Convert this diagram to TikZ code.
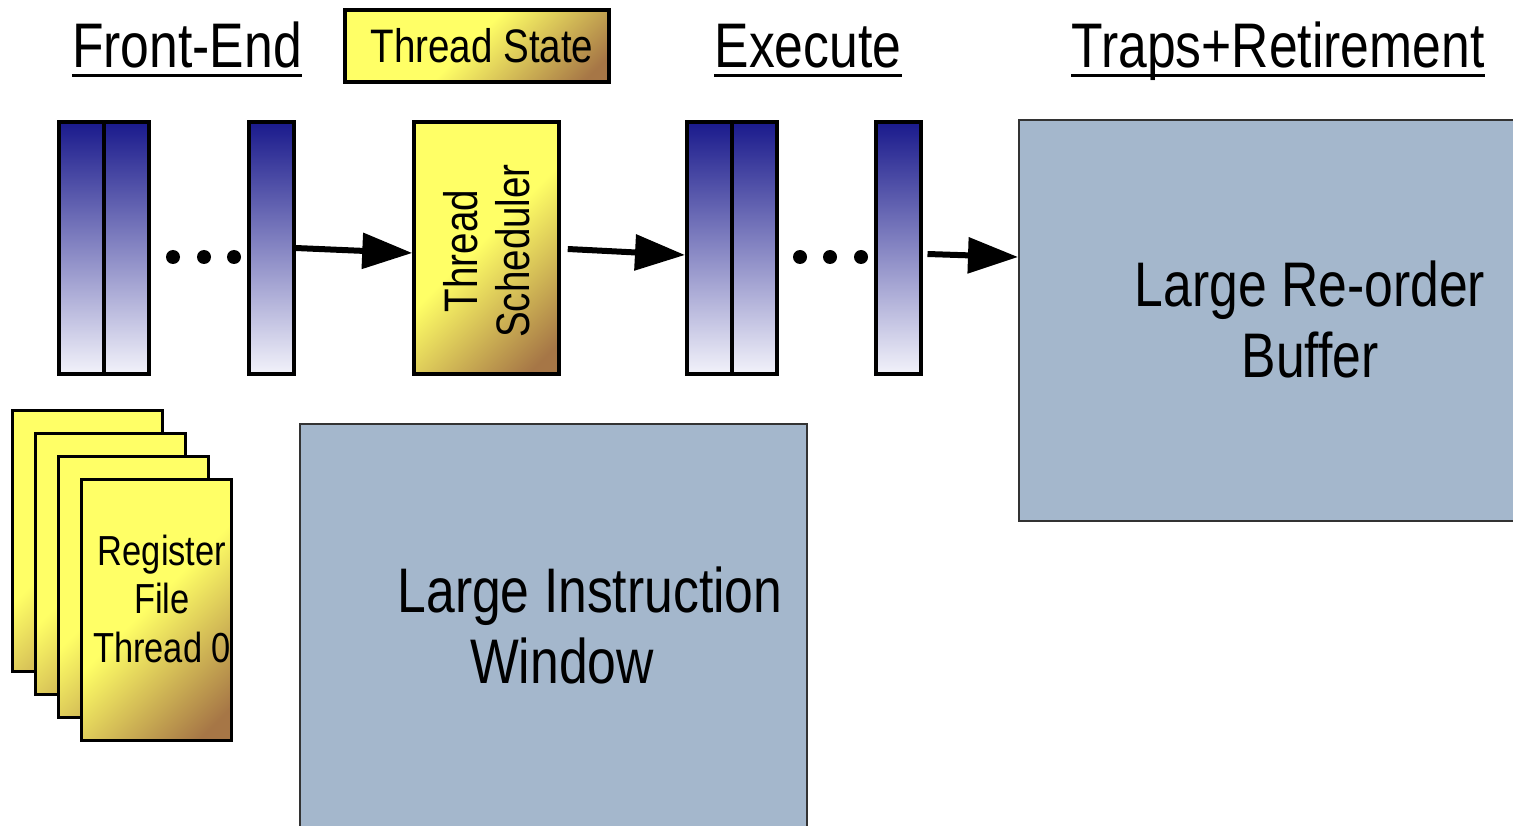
\documentclass[tikz,border=0pt]{standalone}
\usepackage{fontspec}
\setmainfont{Liberation Sans}[FakeStretch=0.82]
\usetikzlibrary{arrows.meta,calc}

\definecolor{stagetop}{RGB}{26,26,140}
\definecolor{stagebot}{RGB}{242,242,250}
\definecolor{tsyel}{RGB}{255,255,102}
\definecolor{tsbrn}{RGB}{166,118,70}
\definecolor{bufblue}{RGB}{164,183,204}

% yellow fading into brown towards one corner
\pgfdeclarehorizontalshading{goldfade}{100bp}{%
  color(0bp)=(tsyel); color(48bp)=(tsyel); color(80bp)=(tsbrn); color(100bp)=(tsbrn)}

\begin{document}
\begin{tikzpicture}[x=1pt,y=-1pt,
  stage/.style={draw=black, line width=4pt, minimum width=45pt, minimum height=252pt,
    inner sep=0pt, top color=stagetop, bottom color=stagebot},
  gold/.style={draw=black, line width=3.5pt, shade, shading=goldfade, shading angle=-45,
    inner sep=0pt},
  card/.style={gold, line width=3pt, minimum width=150pt, minimum height=261pt},
  bigbuf/.style={draw=black!80, line width=2pt, fill=bufblue, inner sep=0pt},
  heading/.style={inner sep=0pt, font=\fontsize{63}{71}\selectfont, anchor=base},
  bigtext/.style={inner sep=0pt, align=center, font=\fontsize{63}{71}\selectfont},
  dot/.style={circle, fill=black, inner sep=0pt, minimum size=14pt},
  flow/.style={line width=6pt, -{Triangle[length=50pt,width=35pt]}},
  uline/.style={line width=3pt}
]
\clip (0,0) rectangle (1513,826);

% column headings
\node[heading] (hfe) at (187,68) {Front-End};
\node[heading] (hex) at (808,68) {Execute};
\node[heading] (htr) at (1278,68) {Traps+Retirement};
\foreach \h in {hfe,hex,htr}
  \draw[uline] ([yshift=-7.5pt]\h.base west) -- ([yshift=-7.5pt]\h.base east);

\node[gold, minimum width=264pt, minimum height=72pt,
      font=\fontsize{47}{52}\selectfont] (tstate) at (477,46) {\hspace*{10pt}Thread State};

% front-end pipeline stages
\node[stage] (fe1) at (81.5,248) {};
\node[stage] (fe2) at (126.5,248) {};
\node[stage] (fe3) at (271,248) {};
\node[dot] (fd1) at (173,257) {};
\node[dot] (fd2) at (204,257) {};
\node[dot] (fd3) at (234,257) {};

% thread scheduler
\node[gold, minimum width=145pt, minimum height=252pt] (sched) at (486.5,248) {};
\node[rotate=90, align=center, inner sep=0pt, font=\fontsize{47}{52}\selectfont]
  (schedtxt) at (487,251) {Thread\\Scheduler};

% execute pipeline stages
\node[stage] (ex1) at (709.5,248) {};
\node[stage] (ex2) at (754.5,248) {};
\node[stage] (ex3) at (898,248) {};
\node[dot] (xd1) at (800,257) {};
\node[dot] (xd2) at (830,257) {};
\node[dot] (xd3) at (861,257) {};

% re-order buffer and instruction window
\node[bigbuf, minimum width=511pt, minimum height=401pt] (rob) at (1274.5,320.5) {};
\node[bigtext] (robtxt) at (1310,319) {Large Re-order\\Buffer};
\node[bigbuf, minimum width=507pt, minimum height=416pt] (liw) at (553.5,632) {};
\node[bigtext] (liwtxt) at (590,625) {Large Instruction\\\hspace*{-56pt}Window};

% flow arrows
\draw[flow] (fe3.east) -- ([yshift=-5pt]sched.west);
\draw[flow] ([xshift=7pt,yshift=-1pt]sched.east) -- ([yshift=-7pt]ex1.west);
\draw[flow] ([xshift=5pt,yshift=-6pt]ex3.east) -- ([yshift=-138pt]rob.north west);

% stack of per-thread register files
\foreach \k in {0,1,2,3}
  \node[card] (rf\k) at (87+23*\k,540.5+23*\k) {};
\node[inner sep=0pt, align=center, font=\fontsize{42}{48.5}\selectfont]
  (rftxt) at (162,598.5) {Register\\File\\Thread 0};
\end{tikzpicture}
\end{document}
